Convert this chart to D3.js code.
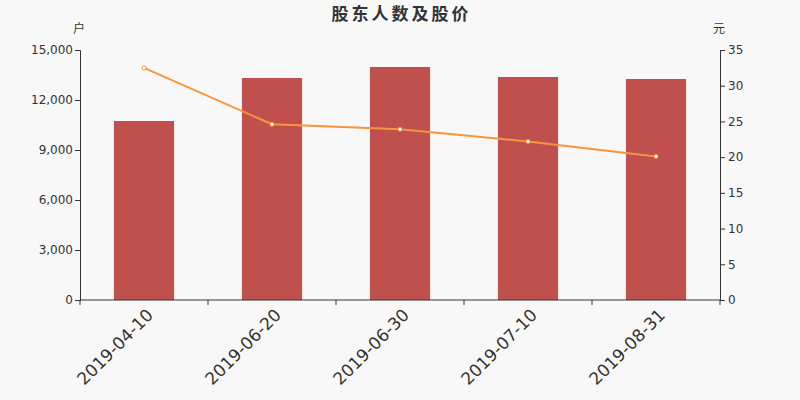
<!DOCTYPE html>
<html><head><meta charset="utf-8">
<script src="https://cdn.jsdelivr.net/npm/d3@7"></script>
<style>body{margin:0;background:#f8f8f8}svg{display:block}</style>
</head><body>
<svg id="c" width="800" height="400"></svg>
<script>
const categories = ["2019-04-10","2019-06-20","2019-06-30","2019-07-10","2019-08-31"];
const holders = [10740, 13320, 13980, 13380, 13260];
const prices = [32.5, 24.6, 23.9, 22.2, 20.1];
const leftTicks = [0, 3000, 6000, 9000, 12000, 15000];
const rightTicks = [0, 5, 10, 15, 20, 25, 30, 35];

const svg = d3.select("#c");
const font = "'DejaVu Sans', sans-serif";
svg.append("rect").attr("width",800).attr("height",400).attr("fill","#f8f8f8");
const L=80,R=720,T=50,B=300;
const x = d3.scaleBand().domain(categories).range([L,R]).paddingInner(0.53).paddingOuter(0.265);
const xb = d3.scaleBand().domain(categories).range([L,R]);
const yL = d3.scaleLinear().domain([0,15000]).range([B,T]);
const yR = d3.scaleLinear().domain([0,35]).range([B,T]);

svg.append("text").attr("x",401.5).attr("y",20).attr("text-anchor","middle")
  .attr("font-family","'Noto Sans CJK SC', sans-serif").attr("font-weight","bold").attr("font-size",17)
  .attr("letter-spacing",3).attr("fill","#333").text("股东人数及股价");
svg.append("text").attr("x",79).attr("y",33).attr("text-anchor","middle")
  .attr("font-family","'Noto Sans CJK SC', sans-serif").attr("font-size",12).attr("fill","#333").text("户");
svg.append("text").attr("x",719).attr("y",33).attr("text-anchor","middle")
  .attr("font-family","'Noto Sans CJK SC', sans-serif").attr("font-size",12).attr("fill","#333").text("元");

// bars
svg.append("g").selectAll("rect").data(categories).join("rect")
  .attr("x",d=>x(d)).attr("width",x.bandwidth())
  .attr("y",(d,i)=>yL(holders[i])).attr("height",(d,i)=>B-yL(holders[i]))
  .attr("fill","#c0504d");

// left axis
const gl = svg.append("g").attr("transform",`translate(${L},0)`)
  .call(d3.axisLeft(yL).tickValues(leftTicks).tickFormat(d3.format(",")).tickSize(5).tickPadding(2));
// right axis
const gr = svg.append("g").attr("transform",`translate(${R},0)`)
  .call(d3.axisRight(yR).tickValues(rightTicks).tickSize(5).tickPadding(3));
// x axis
const gx = svg.append("g").attr("transform",`translate(0,${B})`)
  .call(d3.axisBottom(xb).tickSize(5).tickSizeOuter(5).tickFormat(""));
gx.selectAll(".tick line").attr("transform",`translate(${-xb.bandwidth()/2},0)`);
gx.append("line").attr("x1",R).attr("x2",R).attr("y1",0).attr("y2",5).attr("stroke","#333");
[gl,gr,gx].forEach(g=>{
  g.selectAll("path,line").attr("stroke","#333");
  g.selectAll("text").attr("font-family",font).attr("font-size",12).attr("fill","#333");
});
gx.select(".domain").attr("d",`M${L},0H${R}`);

// x labels
svg.append("g").selectAll("text").data(categories).join("text")
  .attr("transform",d=>`translate(${xb(d)+xb.bandwidth()/2+6},${B+12}) rotate(-45)`)
  .attr("text-anchor","end").attr("dy","0.35em")
  .attr("font-family",font).attr("font-size",17).attr("fill","#333").text(d=>d);

// line
const lc="#f7953f";
const line = d3.line().x((d,i)=>xb(categories[i])+xb.bandwidth()/2).y(d=>yR(d));
svg.append("path").datum(prices).attr("d",line).attr("fill","none").attr("stroke",lc).attr("stroke-width",2);
svg.append("g").selectAll("circle").data(prices).join("circle")
  .attr("cx",(d,i)=>xb(categories[i])+xb.bandwidth()/2).attr("cy",d=>yR(d)).attr("r",2)
  .attr("fill","#fff").attr("stroke",lc).attr("stroke-width",1);
</script>
</body></html>
